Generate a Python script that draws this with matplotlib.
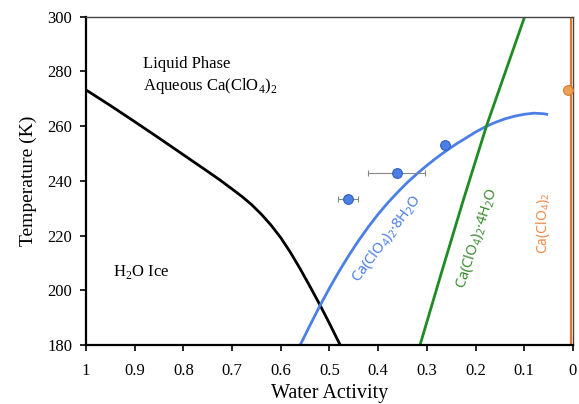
import numpy as np
import matplotlib as mpl
mpl.use('Agg')
import matplotlib.pyplot as plt

# Fonts: serif (Times-like) for the axes, sans for the curve labels
plt.rcParams['font.family'] = ['Liberation Serif', 'DejaVu Serif']
plt.rcParams['mathtext.fontset'] = 'custom'
plt.rcParams['mathtext.rm'] = 'Liberation Serif'
plt.rcParams['mathtext.sf'] = 'Noto Sans'

# Ice melting curve
ice_aw = [1.0, 0.95, 0.90, 0.85, 0.80, 0.75, 0.725, 0.70, 0.68, 0.66, 0.64, 0.62,
          0.60, 0.58, 0.56, 0.54, 0.52, 0.50, 0.478]
ice_T  = [273.2, 267.5, 261.6, 255.6, 249.5, 243.4, 240.3, 237.0, 234.3, 231.3, 227.8, 223.8,
          219.2, 213.8, 207.8, 201.4, 194.8, 187.9, 180.0]

# Ca(ClO4)2.8H2O solubility curve
octa_aw = [0.56, 0.54, 0.52, 0.50, 0.48, 0.46, 0.44, 0.42, 0.40, 0.38, 0.36, 0.34, 0.32,
           0.30, 0.28, 0.26, 0.24, 0.22, 0.20, 0.18, 0.16, 0.14, 0.12, 0.10, 0.08, 0.06, 0.054]
octa_T  = [180.0, 187.2, 194.2, 200.8, 207.0, 212.8, 218.2, 223.2, 227.8, 232.0, 235.8, 239.4, 242.6,
           245.6, 248.4, 251.0, 253.4, 255.6, 257.8, 259.7, 261.3, 262.6, 263.6, 264.3, 264.7, 264.5, 264.3]

# Ca(ClO4)2.4H2O solubility curve
tetra_aw = [0.314, 0.270, 0.225, 0.177, 0.099]
tetra_T  = [180.0, 206.4, 233.0, 260.3, 300.0]

# anhydrous Ca(ClO4)2
anh_aw = [0.003, 0.003]
anh_T  = [180.0, 300.0]

# measured points
pts_aw  = [0.263, 0.362, 0.462]
pts_T   = [253.0, 243.0, 233.3]
pts_err = [0.0, 0.058, 0.021]
anh_pt_aw = [0.010]
anh_pt_T  = [273.0]

xticks = [1, 0.9, 0.8, 0.7, 0.6, 0.5, 0.4, 0.3, 0.2, 0.1, 0]
xtick_labels = ["1", "0.9", "0.8", "0.7", "0.6", "0.5", "0.4", "0.3", "0.2", "0.1", "0"]
yticks = [180, 200, 220, 240, 260, 280, 300]

blue = '#4b7fe6'
green = '#1e8c23'
orange = '#e0782e'

fig = plt.figure(figsize=(5.79, 4.04), dpi=100)
ax = fig.add_axes([0.1485, 0.146, 0.841, 0.813])

ax.plot(ice_aw, ice_T, color='black', lw=2.0)
ax.plot(octa_aw, octa_T, color=blue, lw=2.0)
ax.plot(tetra_aw, tetra_T, color=green, lw=2.0)
ax.plot(anh_aw, anh_T, color=orange, lw=1.6)

ax.errorbar(pts_aw, pts_T, xerr=pts_err, fmt='o', ms=7, color=blue,
            mec='#2f5fc0', mew=0.8, ecolor='#888888', elinewidth=0.8, capsize=2, capthick=0.8, zorder=5)
ax.plot(anh_pt_aw, anh_pt_T, 'o', ms=7, color='#f0a055', mec='#d07a30', mew=0.8, clip_on=False, zorder=5)

ax.set_xlim(1, 0)
ax.set_ylim(180, 300)
ax.set_xticks(xticks)
ax.set_xticklabels(xtick_labels)
ax.set_yticks(yticks)
ax.tick_params(labelsize=12, direction='out', length=4, width=1.2, color='black')
ax.tick_params(axis='x', pad=9)
ax.tick_params(axis='y', pad=6)

for s in ['left', 'bottom']:
    ax.spines[s].set_linewidth(1.6)
    ax.spines[s].set_color('black')
for s in ['top', 'right']:
    ax.spines[s].set_linewidth(1.0)
    ax.spines[s].set_color('#444444')

ax.set_xlabel('Water Activity', fontsize=14.5, labelpad=3.5)
ax.set_ylabel('Temperature (K)', fontsize=14, labelpad=7)

ax.text(0.883, 282.5, 'Liquid Phase', fontsize=12, va='center', ha='left')
ax.text(0.883, 274.5, r'Aqueous Ca(ClO$_4$)$_2$', fontsize=12, va='center', ha='left')
ax.text(0.945, 206.5, r'H$_2$O Ice', fontsize=12, va='center', ha='left')

sans = ['Noto Sans', 'DejaVu Sans']
ax.text(0.383, 219, r'Ca(ClO$_\mathsf{4}$)$_\mathsf{2}$·8H$_\mathsf{2}$O', color=blue, fontsize=10.5,
        family=sans, rotation=53, ha='center', va='center', rotation_mode='anchor')
ax.text(0.197, 219, r'Ca(ClO$_\mathsf{4}$)$_\mathsf{2}$·4H$_\mathsf{2}$O', color='#3c8c32', fontsize=10.5,
        family=sans, rotation=72, ha='center', va='center', rotation_mode='anchor')
ax.text(0.062, 224.5, r'Ca(ClO$_\mathsf{4}$)$_\mathsf{2}$', color='#f08a4a', fontsize=10,
        family=sans, rotation=90, ha='center', va='center', rotation_mode='anchor')

fig.savefig('out.png', dpi=100)
